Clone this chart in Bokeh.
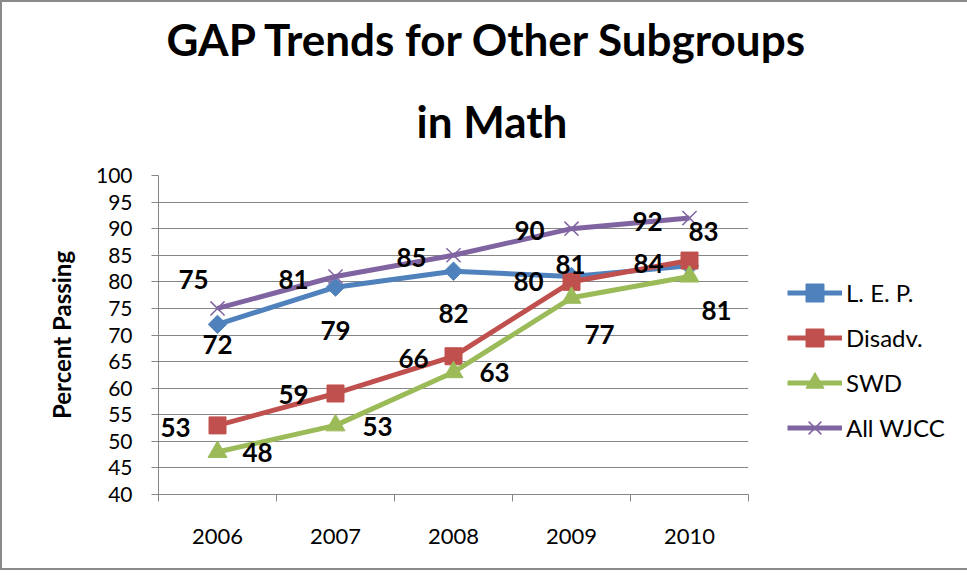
from bokeh.plotting import figure
from bokeh.models import FixedTicker, Title, Legend, LegendItem, ColumnDataSource
from bokeh.core.properties import value
from bokeh.embed import file_html
from bokeh.resources import INLINE
import math

# ---- data ----
years = [2006, 2007, 2008, 2009, 2010]
lep = [72, 79, 82, 81, 83]
disadv = [53, 59, 66, 80, 84]
swd = [48, 53, 63, 77, 81]
all_wjcc = [75, 81, 85, 90, 92]
series_names = ["L. E. P.", "Disadv.", "SWD", "All WJCC"]
y_ticks = [40, 45, 50, 55, 60, 65, 70, 75, 80, 85, 90, 95, 100]
title_lines = ["GAP Trends for Other Subgroups", "in Math"]
y_label = "Percent Passing"

# ---- styles (label offsets in screen px) ----
colors = ["#4F81BD", "#C0504D", "#9BBB59", "#8064A2"]
label_dx = [
    [0, 0, 0, -1, 14],
    [-42, -42, -40, -43, -41],
    [40, 42, 41, 28, 27],
    [-24, -42, -42, -42, -42],
]
label_dy = [
    [20, 43, 42, -12, -34],
    [2, 1, 2, 0, 3],
    [1, 1, 0, 37, 34],
    [-29, 3, 2, 2, 3],
]

FONT = "Lato"
GRID = "#868686"

p = figure(frame_width=590, frame_height=319,
           min_border_left=156, min_border_right=213,
           min_border_top=173, min_border_bottom=74,
           x_range=(2005.5, 2010.5), y_range=(40, 100),
           output_backend="svg", toolbar_location=None)
p.outline_line_color = None
p.background_fill_color = "white"
p.border_fill_color = "white"
p.styles = {"border": "2px solid #8a8a8a"}

# axes
p.xaxis.ticker = FixedTicker(ticks=years, minor_ticks=[y - 0.5 for y in years] + [years[-1] + 0.5])
p.xaxis.major_tick_out = 0
p.xaxis.major_tick_in = 0
p.xaxis.minor_tick_out = 7
p.xaxis.minor_tick_in = 0
p.xaxis.minor_tick_line_color = GRID
p.xaxis.axis_line_color = GRID
p.xaxis.major_label_standoff = 27
p.xaxis.major_label_text_font = FONT
p.xaxis.major_label_text_font_size = "22px"
p.xaxis.major_label_text_color = "black"

p.yaxis.ticker = FixedTicker(ticks=y_ticks)
p.yaxis.major_tick_out = 7
p.yaxis.major_tick_in = 0
p.yaxis.minor_tick_line_color = None
p.yaxis.major_tick_line_color = GRID
p.yaxis.axis_line_color = GRID
p.yaxis.major_label_standoff = 19
p.yaxis.major_label_text_font = FONT
p.yaxis.major_label_text_font_size = "21px"
p.yaxis.major_label_text_color = "black"
p.yaxis.axis_label = y_label
p.yaxis.axis_label_text_font = FONT
p.yaxis.axis_label_text_font_style = "bold"
p.yaxis.axis_label_text_font_size = "24px"
p.yaxis.axis_label_text_color = "black"
p.yaxis.axis_label_standoff = 17

p.xgrid.visible = False
p.ygrid.ticker = FixedTicker(ticks=y_ticks)
p.ygrid.grid_line_color = GRID
p.ygrid.grid_line_width = 1

# title: two lines, first added sits nearest the plot
t2 = Title(text=title_lines[1], align="left", offset=258, standoff=57,
           text_font=FONT, text_font_style="bold", text_font_size="44px",
           text_color="black")
t1 = Title(text=title_lines[0], align="left", offset=8, standoff=0,
           text_font=FONT, text_font_style="bold", text_font_size="44px",
           text_color="black")
p.add_layout(t2, "above")
p.add_layout(t1, "above")

all_series = [lep, disadv, swd, all_wjcc]
markers = ["square", "square", "triangle", "x"]
sizes = [13, 17, 19, 20]
angles = [math.pi / 4, 0, 0, 0]

items = []
for i, vals in enumerate(all_series):
    src = ColumnDataSource(dict(x=years, y=vals))
    lr = p.line("x", "y", source=src, line_color=colors[i], line_width=5)
    if markers[i] == "x":
        sr = p.scatter("x", "y", source=src, marker="x", size=sizes[i],
                       line_color=colors[i], line_width=1.5)
    else:
        sr = p.scatter("x", "y", source=src, marker=markers[i], size=sizes[i],
                       angle=angles[i], fill_color=colors[i], line_color=colors[i])
    items.append(LegendItem(label=series_names[i], renderers=[lr, sr]))

for i, vals in enumerate(all_series):
    src = ColumnDataSource(dict(x=years, y=vals, lab=[str(v) for v in vals],
                                dx=label_dx[i], dy=label_dy[i]))
    p.text("x", "y", text="lab", source=src, x_offset="dx", y_offset="dy",
           text_font=value(FONT), text_font_style="bold", text_font_size="26px",
           text_align="center", text_baseline="middle", text_color="black")

legend = Legend(items=items, location=(39, 44))
legend.label_text_font = FONT
legend.label_text_font_size = "24px"
legend.label_text_color = "black"
legend.glyph_width = 55
legend.glyph_height = 45
legend.label_height = 45
legend.spacing = 0
legend.padding = 0
legend.margin = 0
legend.label_standoff = 4
legend.border_line_color = None
legend.background_fill_alpha = 0
p.add_layout(legend, "right")

open("out.html", "w").write(file_html(p, INLINE))
